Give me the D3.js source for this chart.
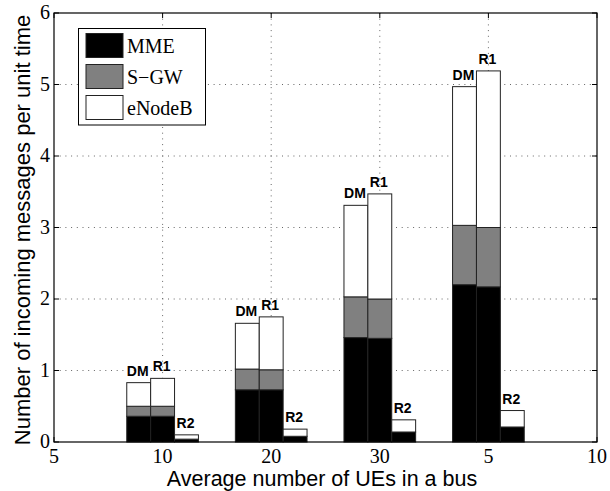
<!DOCTYPE html>
<html>
<head>
<meta charset="utf-8">
<script src="https://cdn.jsdelivr.net/npm/d3@7/dist/d3.min.js"></script>
<style>
  html, body { margin: 0; padding: 0; background: #fff; }
  svg { display: block; }
</style>
</head>
<body>
<svg id="chart" width="610" height="491"></svg>
<script>
// ---- data ----
const groupPositions = [1, 2, 3, 4];            // x positions of the groups
const xTickValues = [0, 1, 2, 3, 4, 5];
const xTickLabels = ["5", "10", "20", "30", "5", "10"];
const yTickValues = [0, 1, 2, 3, 4, 5, 6];
const schemes = ["DM", "R1", "R2"];
const components = ["MME", "S\u2212GW", "eNodeB"];

const dmMME    = [0.36, 0.73, 1.46, 2.20];
const dmSGW    = [0.14, 0.29, 0.57, 0.83];
const dmENB    = [0.33, 0.64, 1.28, 1.94];
const r1MME    = [0.36, 0.73, 1.45, 2.17];
const r1SGW    = [0.14, 0.28, 0.55, 0.83];
const r1ENB    = [0.39, 0.74, 1.47, 2.19];
const r2MME    = [0.04, 0.08, 0.14, 0.21];
const r2SGW    = [0.00, 0.00, 0.00, 0.00];
const r2ENB    = [0.06, 0.10, 0.17, 0.23];

// ---- layout ----
const svg = d3.select("#chart");
const L = 54, R = 597, T = 13, B = 442;
const x = d3.scaleLinear().domain([0, 5]).range([L, R]);
const y = d3.scaleLinear().domain([0, 6]).range([B, T]);
const barW = 0.22;
const colors = ["#000000", "#808080", "#ffffff"];

const schemeData = {
  DM: [dmMME, dmSGW, dmENB],
  R1: [r1MME, r1SGW, r1ENB],
  R2: [r2MME, r2SGW, r2ENB]
};

const rows = [];
groupPositions.forEach((g, gi) => {
  schemes.forEach((s, si) => {
    const r = { group: g, scheme: s, offset: (si - 1) * barW };
    components.forEach((c, ci) => { r[c] = schemeData[s][ci][gi]; });
    rows.push(r);
  });
});
const stacked = d3.stack().keys(components)(rows);

// grid
const grid = svg.append("g");
grid.selectAll("line.h").data(yTickValues.filter(v => v > 0 && v < 6)).join("line")
  .attr("x1", L).attr("x2", R).attr("y1", d => y(d)).attr("y2", d => y(d))
  .attr("stroke", "#666").attr("stroke-width", 1).attr("stroke-dasharray", "1,4.7");
grid.selectAll("line.v").data(xTickValues.filter(v => v > 0 && v < 5)).join("line")
  .attr("y1", T).attr("y2", B).attr("x1", d => x(d)).attr("x2", d => x(d))
  .attr("stroke", "#666").attr("stroke-width", 1).attr("stroke-dasharray", "1,4.7");

// bars
const bars = svg.append("g");
stacked.forEach((layer, li) => {
  bars.append("g").selectAll("rect").data(layer).join("rect")
    .attr("x", d => x(d.data.group + d.data.offset - barW / 2))
    .attr("width", d => x(barW) - x(0))
    .attr("y", d => y(d[1]))
    .attr("height", d => y(d[0]) - y(d[1]))
    .attr("fill", colors[li])
    .attr("stroke", "#222")
    .attr("stroke-width", 1);
});

// scheme labels
svg.append("g").selectAll("text").data(rows).join("text")
  .attr("x", d => x(d.group + d.offset) - 1)
  .attr("y", d => y(d.MME + d["S\u2212GW"] + d.eNodeB) - 7)
  .attr("text-anchor", "middle")
  .attr("font-family", "Liberation Sans, Arial, sans-serif")
  .attr("font-weight", "bold")
  .attr("font-size", 14)
  .text(d => d.scheme);

// axes box
svg.append("rect").attr("x", L).attr("y", T).attr("width", R - L).attr("height", B - T)
  .attr("fill", "none").attr("stroke", "#000").attr("stroke-width", 1.2);

// ticks (inward) and labels
const tickLen = 5;
const ax = svg.append("g");
ax.selectAll("line.xt").data(xTickValues).join("line")
  .attr("x1", d => x(d)).attr("x2", d => x(d)).attr("y1", B).attr("y2", B - tickLen)
  .attr("stroke", "#000");
ax.selectAll("line.xt2").data(xTickValues).join("line")
  .attr("x1", d => x(d)).attr("x2", d => x(d)).attr("y1", T).attr("y2", T + tickLen)
  .attr("stroke", "#000");
ax.selectAll("line.yt").data(yTickValues).join("line")
  .attr("x1", L).attr("x2", L + tickLen).attr("y1", d => y(d)).attr("y2", d => y(d))
  .attr("stroke", "#000");
ax.selectAll("line.yt2").data(yTickValues).join("line")
  .attr("x1", R).attr("x2", R - tickLen).attr("y1", d => y(d)).attr("y2", d => y(d))
  .attr("stroke", "#000");

ax.selectAll("text.xl").data(xTickValues).join("text")
  .attr("x", d => x(d)).attr("y", 463)
  .attr("text-anchor", "middle")
  .attr("font-family", "Liberation Serif, Times New Roman, serif")
  .attr("font-size", 20)
  .text((d, i) => xTickLabels[i]);
ax.selectAll("text.yl").data(yTickValues).join("text")
  .attr("x", 50).attr("y", d => y(d) + 6)
  .attr("text-anchor", "end")
  .attr("font-family", "Liberation Serif, Times New Roman, serif")
  .attr("font-size", 20)
  .text(d => d);

// axis titles
svg.append("text")
  .attr("x", 322).attr("y", 486)
  .attr("text-anchor", "middle")
  .attr("font-family", "Liberation Sans, Arial, sans-serif")
  .attr("font-size", 21.5)
  .text("Average number of UEs in a bus");
svg.append("text")
  .attr("transform", `translate(30,230) rotate(-90)`)
  .attr("text-anchor", "middle")
  .attr("font-family", "Liberation Sans, Arial, sans-serif")
  .attr("font-size", 22)
  .text("Number of incoming messages per unit time");

// legend
const lg = svg.append("g");
lg.append("rect").attr("x", 78.5).attr("y", 28.5).attr("width", 127).attr("height", 96.5)
  .attr("fill", "#fff").attr("stroke", "#000").attr("stroke-width", 1);
components.forEach((c, i) => {
  const yy = 33.5 + i * 31;
  lg.append("rect").attr("x", 86).attr("y", yy).attr("width", 37).attr("height", 24)
    .attr("fill", colors[i]).attr("stroke", "#222").attr("stroke-width", 1);
  lg.append("text").attr("x", 127).attr("y", yy + 19)
    .attr("font-family", "Liberation Serif, Times New Roman, serif")
    .attr("font-size", 20)
    .text(c);
});
</script>
</body>
</html>
